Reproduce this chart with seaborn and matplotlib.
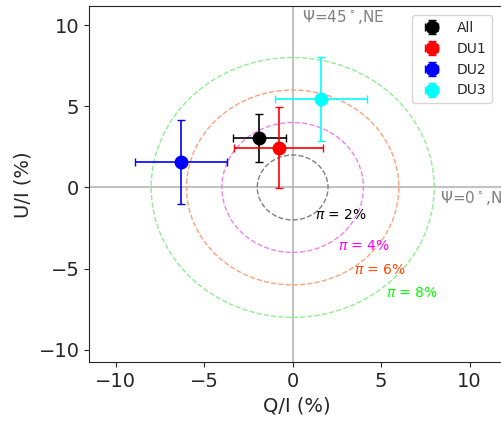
import numpy as np
import pandas as pd
import matplotlib
matplotlib.use("Agg")
import matplotlib.pyplot as plt
import seaborn as sns
from matplotlib.patches import Circle

# polarisation measurements (percent)
labels = ["All", "DU1", "DU2", "DU3"]
q_vals = [-1.9, -0.8, -6.3, 1.6]
u_vals = [3.05, 2.45, 1.57, 5.45]
q_errs = [1.5, 2.5, 2.6, 2.6]
u_errs = [1.5, 2.5, 2.6, 2.6]
colors = ["black", "red", "blue", "cyan"]

# constant polarisation degree circles
radii = [2, 4, 6, 8]
circle_colors = ["gray", "violet", "lightsalmon", "lightgreen"]
pi_text = ["$\\pi$ = 2%", "$\\pi$ = 4%", "$\\pi$ = 6%", "$\\pi$ = 8%"]
pi_text_colors = ["black", "magenta", "orangered", "lime"]
pi_text_pos = [(1.25, -1.95), (2.55, -3.85), (3.45, -5.3), (5.25, -6.75)]

df = pd.DataFrame({"label": labels, "Q": q_vals, "U": u_vals,
                   "dQ": q_errs, "dU": u_errs})

sns.set_style("ticks")
fig = plt.figure(figsize=(5.01, 4.23), dpi=100)
ax = fig.add_axes([0.178, 0.144, 0.83, 0.841])

ax.axhline(0, color="darkgray", lw=1.5, alpha=0.7, zorder=0)
ax.axvline(0, color="darkgray", lw=1.5, alpha=0.7, zorder=0)

for r, c in zip(radii, circle_colors):
    ax.add_patch(Circle((0, 0), r, fill=False, ls="--", ec=c, lw=1))

for (x, y), t, c in zip(pi_text_pos, pi_text, pi_text_colors):
    ax.text(x, y, t, color=c, fontsize=10)

for i, row in df.iterrows():
    ax.errorbar(row["Q"], row["U"], xerr=row["dQ"], yerr=row["dU"],
                fmt="o", color=colors[i], ms=9, capsize=3, lw=1.2,
                label=row["label"])

ax.text(0.55, 10.2, "Ψ=45$^\\circ$,NE", color="gray", fontsize=11)
ax.text(8.3, -0.95, "Ψ=0$^\\circ$,N", color="gray", fontsize=11)

ax.set_xlim(-11.5, 12)
ax.set_ylim(-10.75, 11.15)
ax.set_xticks([-10, -5, 0, 5, 10])
ax.set_yticks([-10, -5, 0, 5, 10])
ax.tick_params(labelsize=14)
ax.set_xlabel("Q/I (%)", fontsize=14)
ax.set_ylabel("U/I (%)", fontsize=14)
ax.legend(loc="upper right", fontsize=10, bbox_to_anchor=(0.985, 0.995))

fig.savefig("out.png", dpi=100)
